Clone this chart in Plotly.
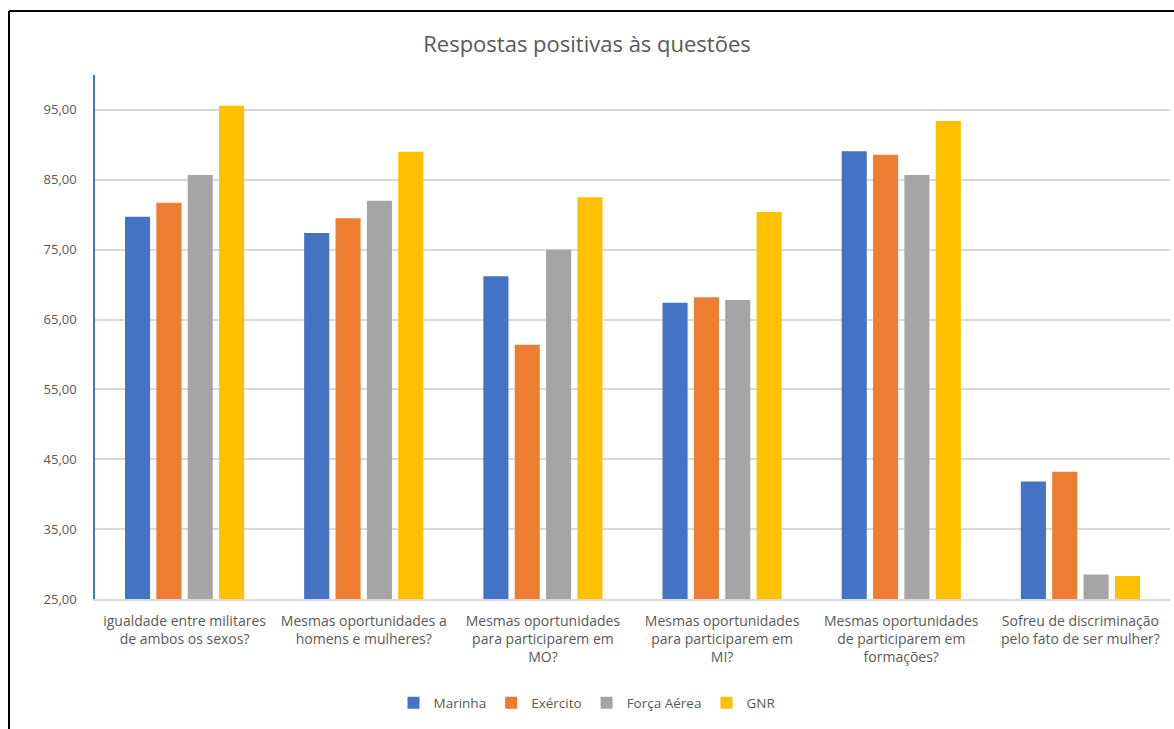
import plotly.graph_objects as go

categories = [
    "igualdade entre militares<br>de ambos os sexos?",
    "Mesmas oportunidades a<br>homens e mulheres?",
    "Mesmas oportunidades<br>para participarem em<br>MO?",
    "Mesmas oportunidades<br>para participarem em<br>MI?",
    "Mesmas oportunidades<br>de participarem em<br>formações?",
    "Sofreu de discriminação<br>pelo fato de ser mulher?",
]
marinha = [79.7, 77.4, 71.2, 67.4, 89.1, 41.8]
exercito = [81.7, 79.5, 61.4, 68.2, 88.6, 43.2]
forca_aerea = [85.7, 82.0, 75.0, 67.8, 85.7, 28.5]
gnr = [95.6, 89.0, 82.5, 80.4, 93.4, 28.3]

series_names = ["Marinha", "Exército", "Força Aérea", "GNR"]
series_vals = [marinha, exercito, forca_aerea, gnr]
colors = ["#4472C4", "#ED7D31", "#A5A5A5", "#FFC000"]

tick_vals = [25, 35, 45, 55, 65, 75, 85, 95]
tick_text = ["25,00", "35,00", "45,00", "55,00", "65,00", "75,00", "85,00", "95,00"]

fig = go.Figure()
for name, vals, c in zip(series_names, series_vals, colors):
    fig.add_trace(go.Bar(x=categories, y=vals, name=name, marker_color=c,
                         marker_line_width=0))

W, H = 1174, 729
ml, mr, mt, mb = 95, 4, 75, 130
pw, ph = W - ml - mr, H - mt - mb

def px2x(px):
    return (px - ml) / pw

def py2y(py):
    return 1 - (py - mt) / ph

fig.update_layout(
    width=W, height=H,
    margin=dict(l=ml, r=mr, t=mt, b=mb),
    paper_bgcolor="white", plot_bgcolor="white",
    font=dict(family="Open Sans", size=13, color="#595959"),
    title=dict(text="Respostas positivas às questões", x=0.5, xanchor="center",
               y=1 - 44 / H, yanchor="middle",
               font=dict(size=22, color="#595959")),
    barmode="group", bargap=0.30, bargroupgap=0.2,
    showlegend=True,
    legend=dict(orientation="h", x=0.5 + (W / 2 - ml - pw / 2) / pw, xanchor="center",
                y=py2y(703), yanchor="middle", font=dict(size=13.5, color="#595959"),
                itemwidth=30, traceorder="normal"),
    xaxis=dict(showgrid=False, showline=True, linecolor="#d9d9d9", linewidth=1.5,
               ticks="", ticklabelstandoff=8,
               tickfont=dict(size=14, color="#595959")),
    yaxis=dict(range=[25, 100], tickvals=tick_vals, ticktext=tick_text,
               showgrid=True, gridcolor="#d9d9d9", gridwidth=1.5,
               showline=True, linecolor="#4472C4", linewidth=1.5,
               zeroline=False, ticks="", ticklabelstandoff=14,
               tickfont=dict(size=13, color="#595959")),
    shapes=[
        dict(type="line", xref="paper", yref="paper",
             x0=px2x(9), x1=px2x(1180), y0=py2y(11), y1=py2y(11),
             line=dict(color="black", width=2)),
        dict(type="line", xref="paper", yref="paper",
             x0=px2x(9), x1=px2x(9), y0=py2y(11), y1=py2y(740),
             line=dict(color="black", width=2)),
    ],
)

fig.write_html("out.html")
